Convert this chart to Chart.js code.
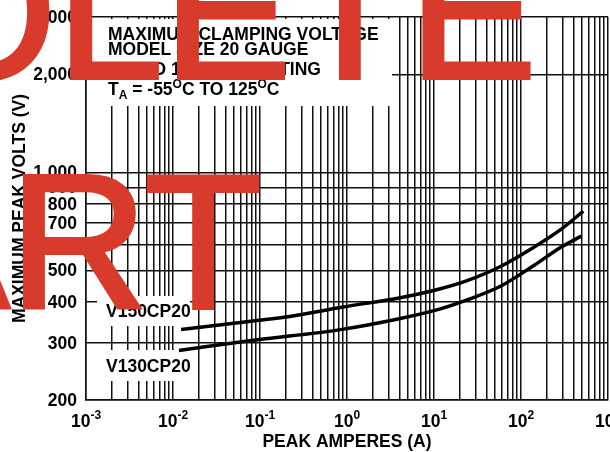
<!DOCTYPE html>
<html>
<head>
<meta charset="utf-8">
<script src="https://cdn.jsdelivr.net/npm/chart.js@4/dist/chart.umd.min.js"></script>
<style>
  html, body { margin: 0; padding: 0; background: #fff; overflow: hidden; }
  #wrap { position: relative; width: 610px; height: 452px; }
</style>
</head>
<body>
<div id="wrap"><canvas id="c" width="610" height="452"></canvas></div>
<script>
// Peak current (A) against maximum clamping voltage (V), log-log.
const v150Amps  = [0.0124, 0.093, 0.22, 0.9, 4.1, 11.85, 24, 58, 139, 285, 520];
const v150Volts = [329, 351, 361, 386, 412, 439, 465, 514, 588, 667, 760];
const v130Amps  = [0.0117, 0.093, 0.84, 4.1, 11.85, 24, 58, 139, 285, 493];
const v130Volts = [284, 306, 329, 356, 381, 406, 447, 517, 588, 637];

// Axis ticks
const xDecades   = [0.001, 0.01, 0.1, 1, 10, 100, 1000];
const xExponents = ['-3', '-2', '-1', '0', '1', '2', '3'];
const xMinorSteps = [1, 2, 3, 4, 5, 6, 7, 8, 9];
const yGrid       = [200, 300, 400, 500, 600, 700, 800, 900, 1000, 2000, 3000];
const yTickLabels = ['200', '300', '400', '500', '600', '700', '800', '900', '1,000', '2,000', '3,000'];

const xGrid = [];
xDecades.slice(0, -1).forEach(d => xMinorSteps.forEach(m => xGrid.push(d * m)));
xGrid.push(1000);

const BOLD = 'bold 17.5px "Liberation Sans", Arial, Helvetica, sans-serif';
const BOLD_SMALL = 'bold 12px "Liberation Sans", Arial, Helvetica, sans-serif';
const RED = '#d83b2c';

// draws a run of [text, font, dy] pieces left to right
function drawRuns(ctx, x, y, runs) {
  runs.forEach(([t, f, dy]) => {
    ctx.font = f;
    ctx.fillText(t, x, y + dy);
    x += ctx.measureText(t).width;
  });
}

const overlay = {
  id: 'overlay',
  beforeDatasetsDraw(chart) {
    const ctx = chart.ctx;
    const xs = chart.scales.x, ys = chart.scales.y;
    ctx.save();
    // white panels behind the caption and the curve names
    ctx.fillStyle = '#fff';
    ctx.fillRect(xs.left + 1, ys.top + 2, 305, 87);
    ctx.fillRect(97, 296, 93, 30);
    ctx.fillRect(97, 350, 93, 31);

    ctx.fillStyle = '#000';
    ctx.textBaseline = 'alphabetic';
    ctx.textAlign = 'left';
    ctx.font = BOLD;
    ctx.fillText('MAXIMUM CLAMPING VOLTAGE', 108, 40);
    ctx.fillText('MODEL SIZE 20 GAUGE', 108, 55);
    ctx.fillText('130 TO 150 VOLT RATING', 108, 75);
    drawRuns(ctx, 108, 95, [
      ['T', BOLD, 0], ['A', BOLD_SMALL, 4], [' = -55', BOLD, 0], ['O', BOLD_SMALL, -7],
      ['C TO 125', BOLD, 0], ['O', BOLD_SMALL, -7], ['C', BOLD, 0]
    ]);

    ctx.font = BOLD;
    ctx.fillText('V150CP20', 106, 317);
    ctx.fillText('V130CP20', 106, 372);

    // y tick labels
    ctx.textAlign = 'right';
    yGrid.forEach((v, i) => {
      ctx.fillText(yTickLabels[i], xs.left - 9, ys.getPixelForValue(v) + 6);
    });

    // x tick labels: 10 with a raised exponent
    ctx.textAlign = 'left';
    xDecades.forEach((d, i) => {
      const px = xs.getPixelForValue(d);
      ctx.font = BOLD;
      const w1 = ctx.measureText('10').width;
      ctx.font = BOLD_SMALL;
      const w2 = ctx.measureText(xExponents[i]).width;
      const x0 = px - (w1 + w2) / 2;
      drawRuns(ctx, x0, 427, [['10', BOLD, 0], [xExponents[i], BOLD_SMALL, -8]]);
    });

    // axis titles
    ctx.font = BOLD;
    ctx.textAlign = 'center';
    ctx.fillText('PEAK AMPERES (A)', (xs.left + xs.right) / 2, 447);
    ctx.translate(25, (ys.top + ys.bottom) / 2);
    ctx.rotate(-Math.PI / 2);
    ctx.fillText('MAXIMUM PEAK VOLTS (V)', 0, 0);
    ctx.restore();
  },
  afterDraw(chart) {
    const ctx = chart.ctx;
    ctx.save();
    ctx.font = '192px "Liberation Sans", Arial, Helvetica, sans-serif';
    ctx.fillStyle = RED;
    ctx.strokeStyle = RED;
    ctx.lineWidth = 4;
    ctx.lineJoin = 'miter';
    ctx.textBaseline = 'alphabetic';
    ctx.textAlign = 'left';
    const x1 = 56.5 - ctx.measureText('OBSO').width;
    ctx.fillText('OBSOLETE', x1, 78);
    ctx.strokeText('OBSOLETE', x1, 78);
    const x2 = 148 - ctx.measureText('PAR').width;
    ctx.fillText('PART', x2, 308);
    ctx.strokeText('PART', x2, 308);
    ctx.restore();
  }
};

new Chart(document.getElementById('c'), {
  type: 'line',
  data: {
    datasets: [
      {
        label: 'V150CP20',
        data: v150Amps.map((a, i) => ({ x: a, y: v150Volts[i] })),
        borderColor: '#000', borderWidth: 3.5, pointRadius: 0,
        cubicInterpolationMode: 'monotone', fill: false
      },
      {
        label: 'V130CP20',
        data: v130Amps.map((a, i) => ({ x: a, y: v130Volts[i] })),
        borderColor: '#000', borderWidth: 3.5, pointRadius: 0,
        cubicInterpolationMode: 'monotone', fill: false
      }
    ]
  },
  options: {
    responsive: false,
    animation: false,
    devicePixelRatio: 1,
    layout: { padding: { left: 86, right: 2, top: 17, bottom: 52 } },
    plugins: { legend: { display: false }, tooltip: { enabled: false } },
    scales: {
      x: {
        type: 'logarithmic', min: 0.001, max: 1000,
        afterBuildTicks: s => { s.ticks = xGrid.map(v => ({ value: v })); },
        ticks: { display: false },
        grid: { color: '#111', lineWidth: 1.5, drawTicks: false },
        border: { color: '#111', width: 1.5 }
      },
      y: {
        type: 'logarithmic', min: 200, max: 3000,
        afterBuildTicks: s => { s.ticks = yGrid.map(v => ({ value: v })); },
        ticks: { display: false },
        grid: { color: '#111', lineWidth: 1.5, drawTicks: false },
        border: { color: '#111', width: 1.5 }
      }
    }
  },
  plugins: [overlay]
});
</script>
</body>
</html>
